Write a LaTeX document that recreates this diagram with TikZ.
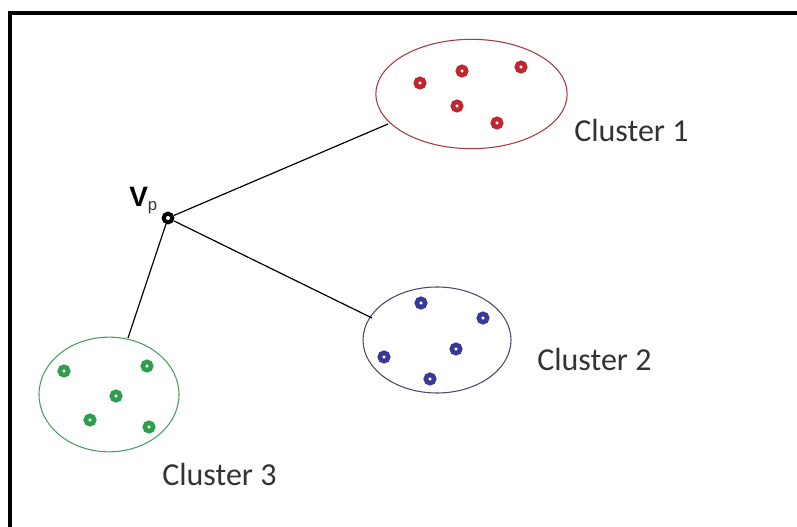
\documentclass[tikz,border=0pt]{standalone}
\usepackage{fontspec}
\usetikzlibrary{shapes.geometric}
\setmainfont{Carlito}
\newfontfamily\vfont{Liberation Sans}
\definecolor{redc}{HTML}{C0262E}
\definecolor{redline}{HTML}{A83A3F}
\definecolor{bluec}{HTML}{38389A}
\definecolor{blueline}{HTML}{4A4A6A}
\definecolor{greenc}{HTML}{2E9E4C}
\definecolor{greenline}{HTML}{4A9E62}
\definecolor{txt}{HTML}{333333}
\tikzset{
  dotring/.style={circle, draw=#1, line width=3.5pt, inner sep=0pt, minimum size=6.2pt},
  clus/.style={draw=#1, line width=0.8pt},
  lbl/.style={anchor=base west, inner sep=0pt, text=txt, font=\fontsize{24}{28}\selectfont},
  conn/.style={draw=black, line width=0.9pt}
}
\begin{document}
\begin{tikzpicture}[x=0.75pt,y=-0.75pt]
\useasboundingbox (0,0) rectangle (797,527);
% frame
\draw[line width=3pt] (10,530) -- (10,13.5) -- (800,13.5);
% clusters
\node[clus=redline, ellipse, minimum width=143.5pt, minimum height=82pt, inner sep=0pt] (c1) at (471.5,94) {};
\node[clus=blueline, ellipse, minimum width=111pt, minimum height=79.5pt, inner sep=0pt] (c2) at (437,340) {};
\node[clus=greenline, ellipse, minimum width=105pt, minimum height=86pt, inner sep=0pt] (c3) at (109,394.5) {};
% dots
\foreach \p [count=\i] in {(420,83),(462,71),(521,67),(457,106),(497,123)}
  \node[dotring=redc] (r\i) at \p {};
\foreach \p [count=\i] in {(421,303),(483,318),(456,349),(384,357),(430,379)}
  \node[dotring=bluec] (b\i) at \p {};
\foreach \p [count=\i] in {(64,371),(147,366),(116,396),(90,420),(149,427)}
  \node[dotring=greenc] (g\i) at \p {};
% Vp
\node[circle, draw=black, line width=3pt, fill=white, inner sep=0pt, minimum size=6.5pt] (vp) at (168,218) {};
\node[anchor=base west, inner sep=0pt, font=\vfont\fontsize{21}{24}\selectfont] (vlbl) at (129,207) {\textbf{V}\raisebox{-2.5pt}{\fontsize{12.5}{13}\selectfont\color{txt}p}};
% connectors
\coordinate (e1) at (388,124);
\coordinate (e2) at (372,318);
\coordinate (e3) at (128,338);
\draw[conn] (vp) -- (e1);
\draw[conn] (vp) -- (e2);
\draw[conn] (vp) -- (e3);
% labels
\node[lbl] (l1) at (574,142) {Cluster 1};
\node[lbl] (l2) at (537,371) {Cluster 2};
\node[lbl] (l3) at (162,485) {Cluster 3};
\end{tikzpicture}
\end{document}
